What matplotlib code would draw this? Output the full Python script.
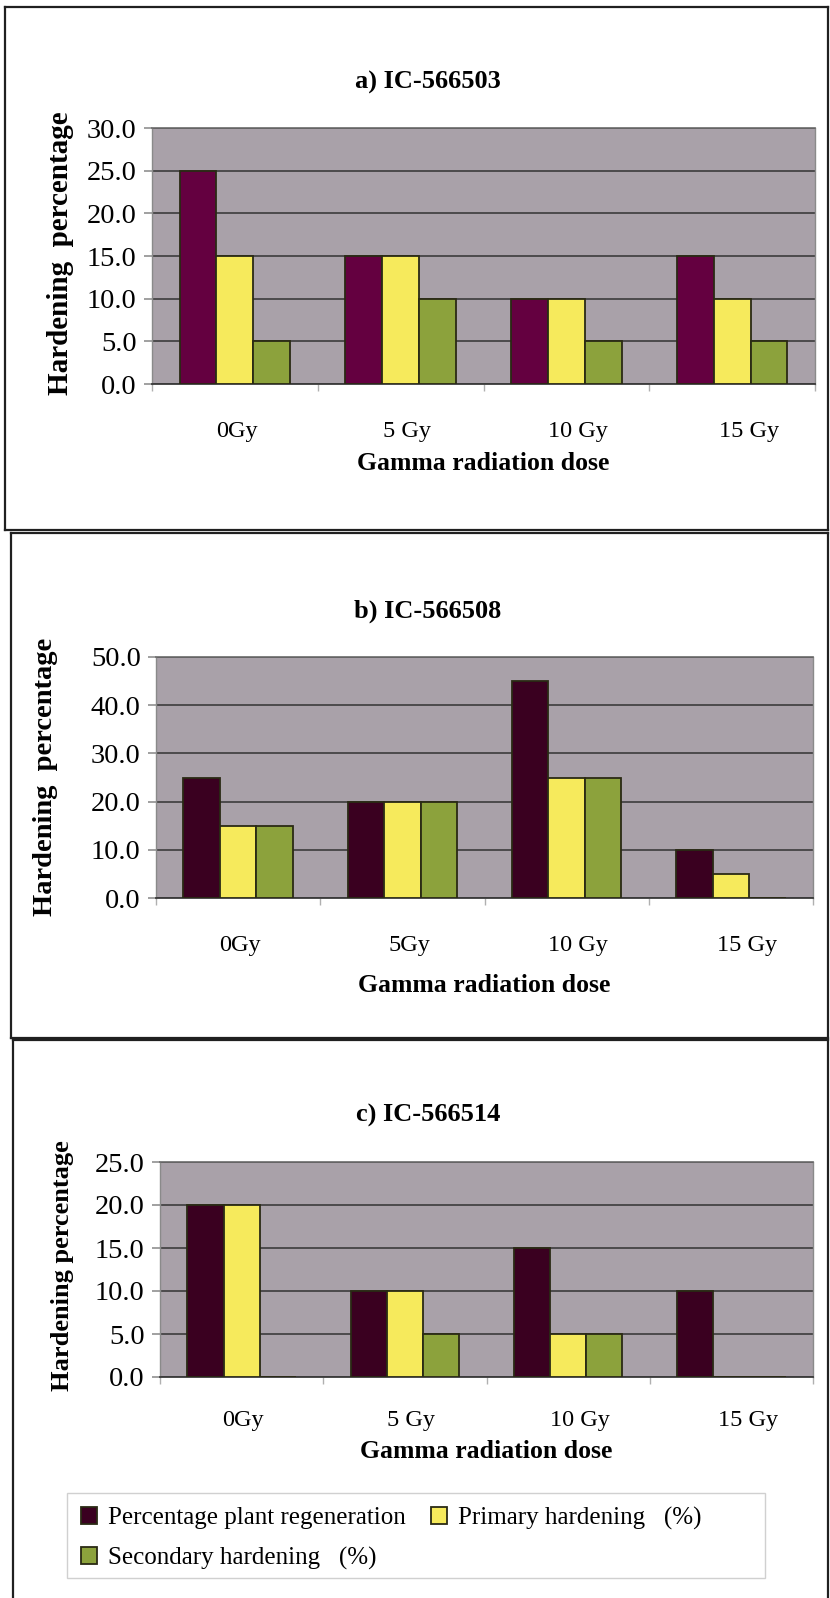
import matplotlib
matplotlib.use("Agg")
import matplotlib.pyplot as plt
from matplotlib.lines import Line2D
from matplotlib.patches import Rectangle
import numpy as np

plt.rcParams['font.family'] = ['Liberation Serif', 'DejaVu Serif']

# ---- data -------------------------------------------------------------
doses_a = ["0Gy", "5 Gy", "10 Gy", "15 Gy"]
doses_b = ["0Gy", "5Gy", "10 Gy", "15 Gy"]
doses_c = ["0Gy", "5 Gy", "10 Gy", "15 Gy"]

series_names = ["Percentage plant regeneration",
                "Primary hardening   (%)",
                "Secondary hardening   (%)"]

regen_a = [25, 15, 10, 15]
primary_a = [15, 15, 10, 10]
secondary_a = [5, 10, 5, 5]

regen_b = [25, 20, 45, 10]
primary_b = [15, 20, 25, 5]
secondary_b = [15, 20, 25, 0]

regen_c = [20, 10, 15, 10]
primary_c = [20, 10, 5, 0]
secondary_c = [0, 5, 5, 0]

titles = ["a) IC-566503", "b) IC-566508", "c) IC-566514"]
ylabels = ["Hardening  percentage", "Hardening  percentage", "Hardening percentage"]
xlabel = "Gamma radiation dose"
y_max = [30, 50, 25]
y_step = [5, 10, 5]

# ---- styling ------------------------------------------------------------
W, H = 830, 1598
fig = plt.figure(figsize=(W / 100, H / 100), dpi=100)

purple = ["#640040", "#3a0020", "#3a0020"]
yellow = "#f6ea5c"
green = "#8ca23c"
plot_bg = "#a9a1a9"
edge = "#2a2a14"


def fx(px):
    return px / W


def fy(px):
    return 1 - px / H


# pixel layout of each panel
panels = [
    dict(ax=(152, 128, 815, 384), title_y=82, ylab=(60, 253, 21), xlab_y=464,
         xpad=27, frame=(5, 7, 828, 530)),
    dict(ax=(156, 657, 813, 898), title_y=611, ylab=(45, 777, 20.5), xlab_y=986,
         xpad=27, frame=(11, 533, 828, 1038)),
    dict(ax=(160, 1162, 813, 1377), title_y=1115, ylab=(63, 1266, 19), xlab_y=1452,
         xpad=24, frame=(13, 1040, 828, 1600)),
]

data = [
    (doses_a, [regen_a, primary_a, secondary_a]),
    (doses_b, [regen_b, primary_b, secondary_b]),
    (doses_c, [regen_c, primary_c, secondary_c]),
]

bar_w = 0.222
handles = None
for i, (p, (labels, series)) in enumerate(zip(panels, data)):
    l, t, r, b = p["ax"]
    ax = fig.add_axes([fx(l), fy(b), (r - l) / W, (b - t) / H])
    ax.set_facecolor(plot_bg)
    x = np.arange(len(labels))
    colors = [purple[i], yellow, green]
    bars = []
    for k, (vals, col) in enumerate(zip(series, colors)):
        bc = ax.bar(x + (k - 1) * bar_w, vals, bar_w, color=col,
                    edgecolor=edge, linewidth=1.3, zorder=3,
                    label=series_names[k])
        bars.append(bc)
    if i == 2:
        handles = bars

    ax.set_xlim(-0.5, len(labels) - 0.5)
    ax.set_ylim(0, y_max[i])
    yt = np.arange(0, y_max[i] + 0.01, y_step[i])
    ax.set_yticks(yt)
    ax.set_yticklabels([f"{v:.1f}" for v in yt], fontsize=20.5)
    # category labels sit slightly right of their bar groups
    ax.set_xticks(x * 1.03 + 0.01)
    ax.set_xticklabels(labels, fontsize=17.5)
    ax.set_xticks(np.arange(-0.5, len(labels)), minor=True)
    ax.tick_params(axis="x", which="major", length=0, pad=p["xpad"])
    ax.tick_params(axis="x", which="minor", length=5, color="#b0b0b0", width=1)
    ax.tick_params(axis="y", length=6, color="#909090", width=1.2, pad=5)

    ax.yaxis.grid(True, color="#3c3c3c", linewidth=1.2, zorder=1)
    ax.set_axisbelow(True)
    for side, c, lw in [("top", "#6a6a6a", 1.2), ("right", "#8a8a8a", 1.0),
                        ("left", "#8a8a8a", 1.0), ("bottom", "#3a3a3a", 1.3)]:
        ax.spines[side].set_color(c)
        ax.spines[side].set_linewidth(lw)

    fig.text(fx(428), fy(p["title_y"]), titles[i], ha="center", va="center",
             fontsize=19, fontweight="bold")
    yx, yy, ys = p["ylab"]
    fig.text(fx(yx), fy(yy), ylabels[i], rotation=90, ha="center",
             va="center", fontsize=ys, fontweight="bold")
    fig.text(fx((l + r) / 2), fy(p["xlab_y"]), xlabel, ha="center",
             va="center", fontsize=18.5, fontweight="bold")

    # panel frame
    fl, ft, fr, fb = p["frame"]
    for xs, ys_ in [((fl, fr), (ft, ft)), ((fl, fl), (ft, fb)),
                    ((fl, fr), (fb, fb)), ((fr, fr), (ft, fb))]:
        fig.add_artist(Line2D([fx(v) for v in xs], [fy(v) for v in ys_],
                              color="#202020", linewidth=1.6))

# legend box, then entries: column 1 regeneration + secondary, column 2 primary
fig.add_artist(Rectangle((fx(67), fy(1578)), (765 - 67) / W, (1578 - 1493) / H,
                         transform=fig.transFigure, facecolor="white",
                         edgecolor="#d0d0d0", linewidth=1.0, zorder=1))
leg = fig.legend([handles[0], handles[2], handles[1]],
                 [series_names[0], series_names[2], series_names[1]],
                 ncol=2, loc="upper left",
                 bbox_to_anchor=(fx(67), fy(1493)), borderaxespad=0,
                 fontsize=18, handlelength=0.65, handleheight=0.65,
                 handletextpad=0.45, columnspacing=1.0, labelspacing=0.68,
                 borderpad=0.55, frameon=False)
leg.set_zorder(2)

fig.savefig("out.png", dpi=100)
